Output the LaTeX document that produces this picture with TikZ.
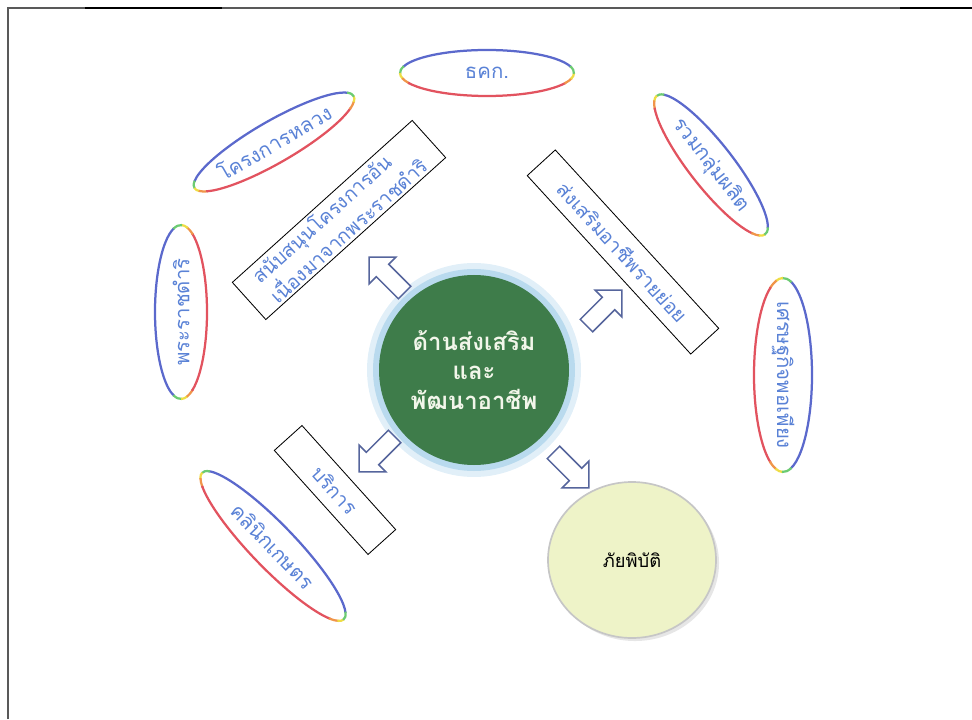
\documentclass[tikz,border=0pt]{standalone}
\usepackage{fontspec}
\newfontfamily\thaifont[Script=Thai]{Loma}
\usetikzlibrary{shapes.geometric, shapes.arrows, shadows}

\definecolor{hubgreen}{HTML}{3E7C4A}
\definecolor{hubtext}{HTML}{F2F6EA}
\definecolor{glowblue}{HTML}{B9DAEE}
\definecolor{glowpale}{HTML}{E1EFF8}
\definecolor{labelblue}{HTML}{5A82D6}
\definecolor{arrowedge}{HTML}{56659C}
\definecolor{ringblue}{HTML}{5B69CC}
\definecolor{ringgreen}{HTML}{6CCB72}
\definecolor{ringyellow}{HTML}{EEDD45}
\definecolor{ringorange}{HTML}{F0954A}
\definecolor{ringred}{HTML}{E2535F}
\definecolor{disasterfill}{HTML}{EEF3C8}

\tikzset{
  ringtext/.style={font=\thaifont\fontsize{14.5}{16}\selectfont, text=labelblue, inner sep=1pt},
  ringline/.style={line width=1.6pt},
  boxtext/.style={draw, line width=0.6pt, fill=white, text=labelblue, inner sep=0pt,
    font=\thaifont\fontsize{14}{16}\selectfont},
  outarrow/.style={single arrow, draw=arrowedge, line width=1.1pt, fill=white,
    inner xsep=0pt, inner ysep=0.2cm, minimum width=0.9cm, minimum height=1.25cm,
    single arrow head extend=0.25cm},
  hub/.style={circle, fill=hubgreen, text=hubtext, minimum size=4.75cm, align=center,
    font=\thaifont\bfseries\fontsize{17}{21}\selectfont},
}

% anneau multicolore autour d'un noeud : centre, angle, rayon x, rayon y
\newcommand{\ringround}[4]{%
  \begin{scope}[shift={#1}, rotate=#2]
    \foreach \ta/\tb/\col in {15/165/ringblue, 163/182/ringgreen, 180/195/ringyellow,
        193/207/ringorange, 205/335/ringred, 333/347/ringorange, 345/360/ringyellow,
        358/377/ringgreen}
      \draw[ringline, \col] (\ta:#3 and #4) arc[start angle=\ta, end angle=\tb, x radius=#3, y radius=#4];
  \end{scope}}

\begin{document}
\begin{tikzpicture}[x=0.25cm, y=0.25cm]
  \useasboundingbox (0,0) rectangle (97.2,71.9);

  % cadre
  \draw[gray!70!black, line width=0.8pt] (0.8,0) -- (0.8,71.1) -- (97.2,71.1);
  \draw[line width=1.8pt] (8.5,71.1) -- (22.2,71.1);
  \draw[line width=1.8pt] (90,71.1) -- (97.2,71.1);

  % centre
  \node[circle, fill=glowpale, minimum size=5.35cm] (halo) at (47.4,34.9) {};
  \node[circle, fill=glowblue, minimum size=5.05cm] (halo2) at (halo) {};
  \node[hub] (core) at (halo) {ด้านส่งเสริม\\และ\\พัฒนาอาชีพ};

  % fleches
  \node[outarrow, rotate=135] (upleft) at (39.0,44.1) {};
  \node[outarrow, rotate=45] (upright) at (60.1,40.8) {};
  \node[outarrow, rotate=-135] (downleft) at (38.0,26.8) {};
  \node[outarrow, rotate=-45] (downright) at (56.8,25.2) {};

  % cadres de texte
  \node[boxtext, rotate=42, minimum width=6.05cm, minimum height=1.25cm, align=left]
    (boxroyal) at (33.9,49.9) {สนับสนุนโครงการอัน\\เนื่องมาจากพระราชดำริ};
  \node[boxtext, rotate=-47.5, minimum width=6.05cm, minimum height=0.95cm]
    (boxcareer) at (62.3,46.7) {ส่งเสริมอาชีพรายย่อย};
  \node[boxtext, rotate=-48, minimum width=3.5cm, minimum height=0.93cm]
    (boxservice) at (33.5,22.9) {บริการ};

  % ellipses
  \node[ringtext] (bank) at (48.7,64.6) {ธคก.};
  \ringround{(bank.center)}{0}{8.7}{2.3}
  \node[ringtext, rotate=30] (royal) at (27.4,57.7) {โครงการหลวง};
  \ringround{(royal.center)}{30}{9.2}{2.1}
  \node[ringtext, rotate=-52] (group) at (71.1,55.4) {รวมกลุ่มผลิต};
  \ringround{(group.center)}{-52}{8.8}{2.2}
  \node[ringtext, rotate=-90] (suff) at (78.3,34.4) {เศรษฐกิจพอเพียง};
  \ringround{(suff.center)}{-90}{9.7}{2.9}
  \node[ringtext, rotate=90] (royalidea) at (18.1,40.7) {พระราชดำริ};
  \ringround{(royalidea.center)}{90}{8.7}{2.6}
  \node[ringtext, rotate=-46] (clinic) at (27.3,17.3) {คลินิกเกษตร};
  \ringround{(clinic.center)}{-46}{10.2}{2.2}

  % cercle jaune
  \node[ellipse, fill=disasterfill, draw=gray!45, line width=1.2pt, minimum width=4.2cm,
    minimum height=3.9cm, drop shadow={opacity=0.2},
    font=\thaifont\fontsize{13}{15}\selectfont] (disaster) at (63.2,15.9) {ภัยพิบัติ};
\end{tikzpicture}
\end{document}
